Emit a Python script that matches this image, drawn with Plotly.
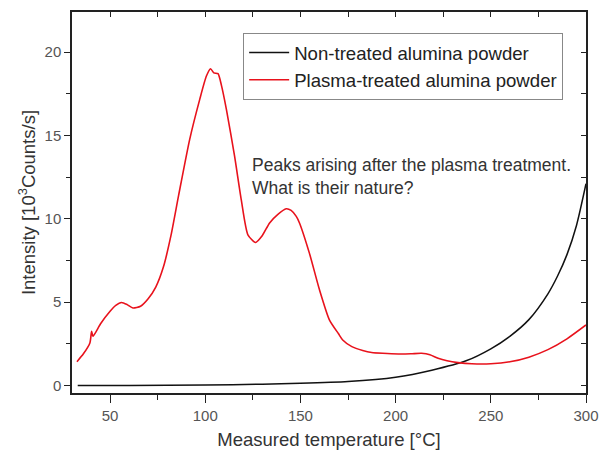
import plotly.graph_objects as go

# Non-treated alumina powder (black)
black_x = [33, 60, 100, 130, 150, 175, 200, 219, 237, 250, 260, 270, 280, 285, 290, 295, 300]
black_y = [0.0, 0.0, 0.03, 0.08, 0.13, 0.24, 0.5, 0.92, 1.48, 2.2, 2.95, 3.95, 5.5, 6.55, 7.85, 9.6, 12.1]

# Plasma-treated alumina powder (red)
red_x = [32.6, 36, 39.4, 40.3, 41, 45, 50, 53, 56, 59, 62, 66, 70, 74, 78, 82, 86, 91.8, 97.1,
         100.6, 102.8, 104.5, 106.7, 108.5, 111.1, 115.4, 118.9, 122.4, 126.4, 130, 133.8, 138, 142.5, 145.1,
         147.8, 149.5, 154.7, 160, 165.2, 170, 172.2, 177, 182.7, 187.4, 193.2, 201.4, 208, 213.6, 218, 222.3,
         227, 232.8, 240, 250, 260, 270, 280, 290, 300]
red_y = [1.43, 1.9, 2.55, 3.25, 2.95, 3.7, 4.45, 4.8, 4.98, 4.85, 4.65, 4.75, 5.2, 5.9, 7.1, 9.0, 11.4, 14.75, 17.16,
         18.56, 19.0, 18.75, 18.7, 18.0, 16.56, 13.75, 11.15, 9.04, 8.58, 9.0, 9.75, 10.25, 10.6, 10.5,
         10.14, 9.75, 7.94, 5.74, 3.94, 3.1, 2.73, 2.33, 2.1, 1.98, 1.93, 1.89, 1.9, 1.93, 1.85, 1.63,
         1.48, 1.37, 1.3, 1.3, 1.42, 1.7, 2.15, 2.8, 3.63]

legend_names = ["Non-treated alumina powder", "Plasma-treated alumina powder"]
x_ticks = [50, 100, 150, 200, 250, 300]
y_ticks = [0, 5, 10, 15, 20]
x_range = [30, 300]
y_range = [-0.45, 22.4]
note = "Peaks arising after the plasma treatment.<br>What is their nature?"

FONT = "Arial, Liberation Sans, sans-serif"

fig = go.Figure()
fig.add_trace(go.Scatter(x=black_x, y=black_y, mode="lines", name=legend_names[0],
                         line=dict(color="#111111", width=1.5, shape="spline", smoothing=0.7)))
fig.add_trace(go.Scatter(x=red_x, y=red_y, mode="lines", name=legend_names[1],
                         line=dict(color="#e8121c", width=1.6, shape="spline", smoothing=0.6)))
# invisible trace to activate mirrored top/right axes
fig.add_trace(go.Scatter(x=black_x, y=black_y, xaxis="x2", yaxis="y2", mode="lines",
                         line=dict(color="rgba(0,0,0,0)"), showlegend=False, hoverinfo="skip"))

tickfont = dict(family=FONT, size=15, color="#555555")

fig.update_layout(
    width=599, height=457,
    margin=dict(l=72, r=13, t=12, b=64),
    plot_bgcolor="white", paper_bgcolor="white",
    font=dict(family=FONT, color="#333333"),
    showlegend=True,
    legend=dict(x=0.333, y=0.945, xanchor="left", yanchor="top",
                bgcolor="white", bordercolor="#888888", borderwidth=1,
                font=dict(family=FONT, size=18.6, color="#222222"),
                tracegroupgap=0, itemwidth=40),
    xaxis=dict(range=x_range, tickvals=x_ticks, ticks="outside", ticklen=8, tickwidth=1.2,
               tickcolor="#222222", showline=True, linecolor="#222222", linewidth=1.5,
               showgrid=False, zeroline=False, tickfont=tickfont, automargin=False,
               ticklabeloverflow="allow",
               minor=dict(dtick=25, tick0=25, ticks="outside", ticklen=5, tickcolor="#222222", showgrid=False),
               title=dict(text="Measured temperature [°C]", font=dict(family=FONT, size=18.5, color="#333333"),
                          standoff=10)),
    yaxis=dict(range=y_range, tickvals=y_ticks, ticks="outside", ticklen=6, tickwidth=1.2,
               tickcolor="#222222", showline=True, linecolor="#222222", linewidth=1.5,
               showgrid=False, zeroline=False, tickfont=tickfont, automargin=False,
               minor=dict(dtick=2.5, tick0=0, ticks="outside", ticklen=4, tickcolor="#222222", showgrid=False),
               title=dict(text="Intensity [10<sup>3</sup>Counts/s]", font=dict(family=FONT, size=18.5, color="#333333"),
                          standoff=4)),
    xaxis2=dict(range=x_range, overlaying="x", side="top", anchor="y", tickvals=x_ticks,
                ticks="inside", ticklen=5, tickcolor="#222222", showticklabels=False, automargin=False,
                showline=True, linecolor="#222222", linewidth=1.5, showgrid=False, zeroline=False,
                minor=dict(dtick=25, tick0=25, ticks="inside", ticklen=5, tickcolor="#222222", showgrid=False)),
    yaxis2=dict(range=y_range, overlaying="y", side="right", anchor="x", tickvals=y_ticks,
                ticks="inside", ticklen=5, tickcolor="#222222", showticklabels=False, automargin=False,
                showline=True, linecolor="#222222", linewidth=1.5, showgrid=False, zeroline=False,
                minor=dict(dtick=2.5, tick0=0, ticks="inside", ticklen=5, tickcolor="#222222", showgrid=False)),
    annotations=[dict(text=note, x=0.347, y=0.63, xref="paper", yref="paper",
                      xanchor="left", yanchor="top", align="left", showarrow=False,
                      font=dict(family=FONT, size=17.5, color="#333333"))],
)

fig.write_html("out.html")
